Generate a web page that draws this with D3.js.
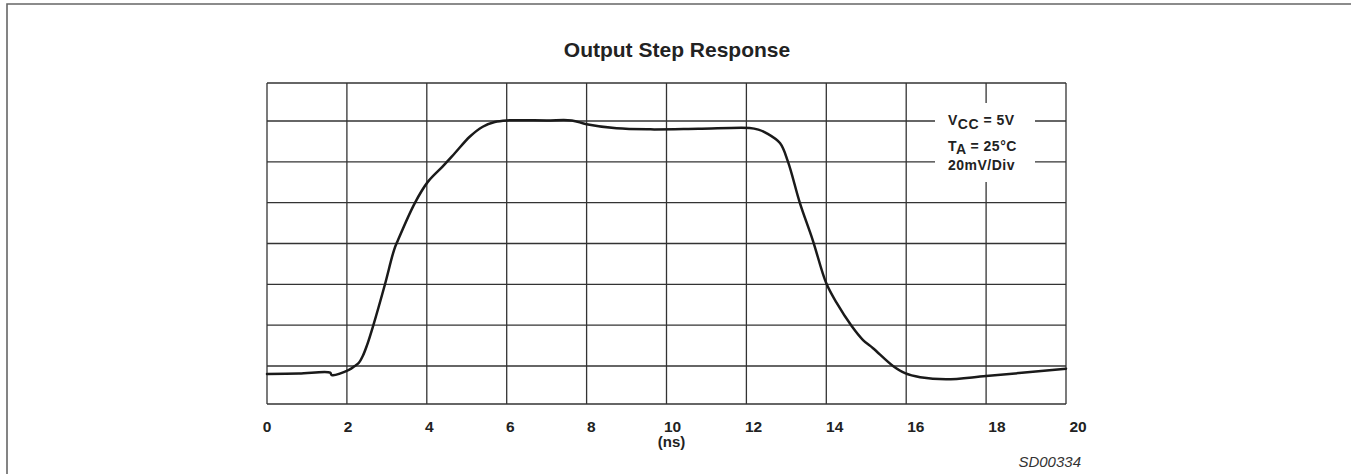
<!DOCTYPE html>
<html><head><meta charset="utf-8">
<script src="https://cdn.jsdelivr.net/npm/d3@7"></script>
<style>body{margin:0;background:#fff}svg{display:block}</style>
</head><body>
<svg id="chart" width="1351" height="474"></svg>
<script>
// ---- data ----
const timeNs = [0, 0.8, 1.58, 1.62, 2.05, 2.2, 2.3, 2.4, 2.5, 2.65, 2.95, 3.18, 3.28, 3.7, 4.03, 4.4, 4.7, 5.08, 5.4, 5.7, 6.0, 7.0, 7.63, 8.0, 8.75, 9.6, 10.8, 12.08, 12.3, 12.5, 12.84, 13.04, 13.34, 13.66, 14.0, 14.26, 14.63, 14.92, 15.17, 15.67, 15.97, 16.35, 17.0, 18.0, 20];
const outputMv = [15.8, 16.0, 16.5, 15.2, 17.9, 20, 21.6, 25, 30, 39.2, 59.8, 76.8, 81.7, 99.8, 110.3, 117.8, 124.2, 132.4, 137.2, 139.5, 140.3, 140.3, 140.3, 138.4, 136.4, 135.9, 136.2, 136.6, 135.8, 134.1, 129.2, 120.1, 99.8, 81.7, 60.5, 50.9, 39.7, 32.7, 28.7, 20, 16.2, 14.1, 13.0, 14.7, 18.6];
const xTicks = [0, 2, 4, 6, 8, 10, 12, 14, 16, 18, 20];
const xTickLabels = ["0", "2", "4", "6", "8", "10", "12", "14", "16", "18", "20"];
const yGrid = [0, 20, 40, 60, 80, 100, 120, 140, 160];
const titleText = "Output Step Response";
const xUnitText = "(ns)";
const figureCode = "SD00334";

// ---- layout ----
const svg = d3.select("#chart");
const font = "'Liberation Sans', Arial, Helvetica, sans-serif";
const L = 267, R = 1066, T = 83, B = 404;

const x = d3.scaleLinear().domain([0, 20]).range([L, R]);
const xLab = d3.scaleLinear().domain([0, 20]).range([267, 1078]);
const y = d3.scaleLinear().domain([0, 20, 140, 160]).range([B, 366, 121, T]);

// outer border (left + top)
svg.append("path").attr("d", "M7,474V4H1351")
  .attr("fill", "none").attr("stroke", "#666").attr("stroke-width", 1.6);

// title
svg.append("text").attr("x", 677).attr("y", 57)
  .attr("text-anchor", "middle").attr("font-family", font)
  .attr("font-weight", "bold").attr("font-size", 21).attr("fill", "#222")
  .text(titleText);

// grid
const grid = svg.append("g").attr("stroke", "#333").attr("stroke-width", 1.3);
grid.selectAll("line.v").data(xTicks).join("line").attr("class", "v")
  .attr("x1", d => x(d)).attr("x2", d => x(d)).attr("y1", T).attr("y2", B);
grid.selectAll("line.h").data(yGrid).join("line").attr("class", "h")
  .attr("x1", L).attr("x2", R).attr("y1", d => y(d)).attr("y2", d => y(d));

// legend box
svg.append("rect").attr("x", 935).attr("y", 103).attr("width", 100).attr("height", 79).attr("fill", "#fff");
const lg = svg.append("g").attr("font-family", font).attr("font-weight", "bold")
  .attr("font-size", 14).attr("fill", "#222").attr("letter-spacing", 0.5);
const t1 = lg.append("text").attr("x", 948).attr("y", 125);
t1.append("tspan").text("V");
t1.append("tspan").attr("dy", 4).text("CC");
t1.append("tspan").attr("dy", -4).text(" = 5V");
const t2 = lg.append("text").attr("x", 948).attr("y", 151);
t2.append("tspan").text("T");
t2.append("tspan").attr("dy", 3).text("A");
t2.append("tspan").attr("dy", -3).text(" = 25°C");
lg.append("text").attr("x", 948).attr("y", 170).text("20mV/Div");

// curve
const pts = timeNs.map((t, i) => [t, outputMv[i]]);
svg.append("path").datum(pts)
  .attr("fill", "none").attr("stroke", "#1a1a1a").attr("stroke-width", 2.5)
  .attr("stroke-linejoin", "round").attr("stroke-linecap", "round")
  .attr("d", d3.line().x(d => x(d[0])).y(d => y(d[1])).curve(d3.curveCatmullRom.alpha(0.5)));

// x tick labels
svg.append("g").attr("font-family", font).attr("font-weight", "bold")
  .attr("font-size", 15.5).attr("fill", "#222").attr("text-anchor", "middle")
  .selectAll("text").data(xTicks).join("text")
  .attr("x", d => xLab(d)).attr("y", 432).text((d, i) => xTickLabels[i]);
svg.append("text").attr("x", xLab(10) - 1).attr("y", 447)
  .attr("font-family", font).attr("font-weight", "bold").attr("font-size", 15)
  .attr("fill", "#222").attr("text-anchor", "middle").text(xUnitText);

// figure code
svg.append("text").attr("x", 1081).attr("y", 467).attr("text-anchor", "end")
  .attr("font-family", font).attr("font-style", "italic").attr("font-size", 15)
  .attr("fill", "#333").text(figureCode);
</script>
</body></html>
